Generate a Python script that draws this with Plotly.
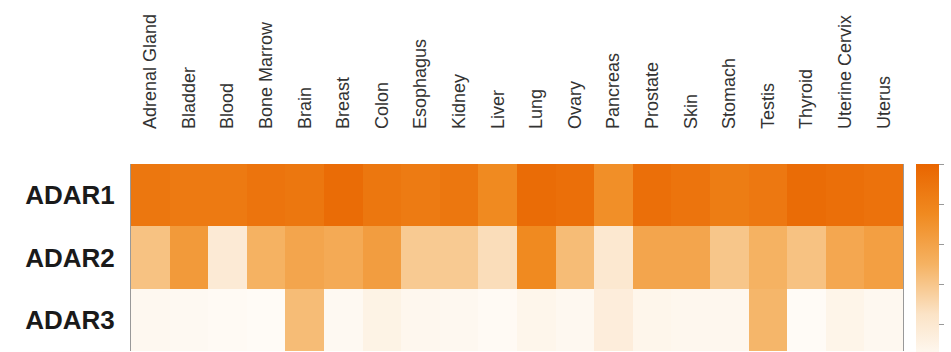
import plotly.graph_objects as go

tissues = ["Adrenal Gland", "Bladder", "Blood", "Bone Marrow", "Brain", "Breast", "Colon",
           "Esophagus", "Kidney", "Liver", "Lung", "Ovary", "Pancreas", "Prostate", "Skin",
           "Stomach", "Testis", "Thyroid", "Uterine Cervix", "Uterus"]
genes = ["ADAR1", "ADAR2", "ADAR3"]

adar1 = [0.88, 0.86, 0.86, 0.90, 0.88, 0.95, 0.88, 0.85, 0.88, 0.75,
         0.95, 0.93, 0.72, 0.93, 0.90, 0.84, 0.87, 0.95, 0.93, 0.91]
adar2 = [0.42, 0.65, 0.18, 0.50, 0.58, 0.55, 0.63, 0.38, 0.38, 0.28,
         0.75, 0.45, 0.20, 0.58, 0.58, 0.40, 0.50, 0.42, 0.57, 0.62]
adar3 = [0.05, 0.04, 0.03, 0.02, 0.45, 0.04, 0.10, 0.06, 0.05, 0.03,
         0.07, 0.05, 0.15, 0.07, 0.06, 0.06, 0.48, 0.02, 0.08, 0.05]

colorscale = [[0.0, "#fffdfa"], [0.25, "#fbe3c6"], [0.5, "#f5b262"],
              [0.75, "#f08a20"], [1.0, "#e96500"]]

fig = go.Figure(go.Heatmap(
    z=[adar1, adar2, adar3], x=tissues, y=genes,
    colorscale=colorscale, zmin=0, zmax=1,
    colorbar=dict(thickness=23, len=200, lenmode="pixels", x=1.017, xanchor="left",
                  xpad=0, y=1, yanchor="top", ypad=0, outlinewidth=0,
                  tickvals=[0, 0.2, 0.4, 0.6, 0.8, 1.0], ticks="outside", ticklen=5,
                  tickcolor="#999", showticklabels=False),
))

fig.update_layout(
    width=951, height=352,
    margin=dict(l=131, r=48, t=164, b=1),
    paper_bgcolor="white", plot_bgcolor="white",
    xaxis=dict(side="top", tickangle=-90, showgrid=False, zeroline=False, ticks="",
               ticklabelstandoff=34,
               tickfont=dict(family="Liberation Sans", size=18, color="#333")),
    yaxis=dict(autorange="reversed", showgrid=False, zeroline=False, ticks="",
               ticklabelstandoff=10, showline=True, mirror=True, linecolor="#999", linewidth=1,
               tickfont=dict(family="Liberation Sans", size=26, color="#1a1a1a", weight="bold")),
)

fig.write_html("out.html")
